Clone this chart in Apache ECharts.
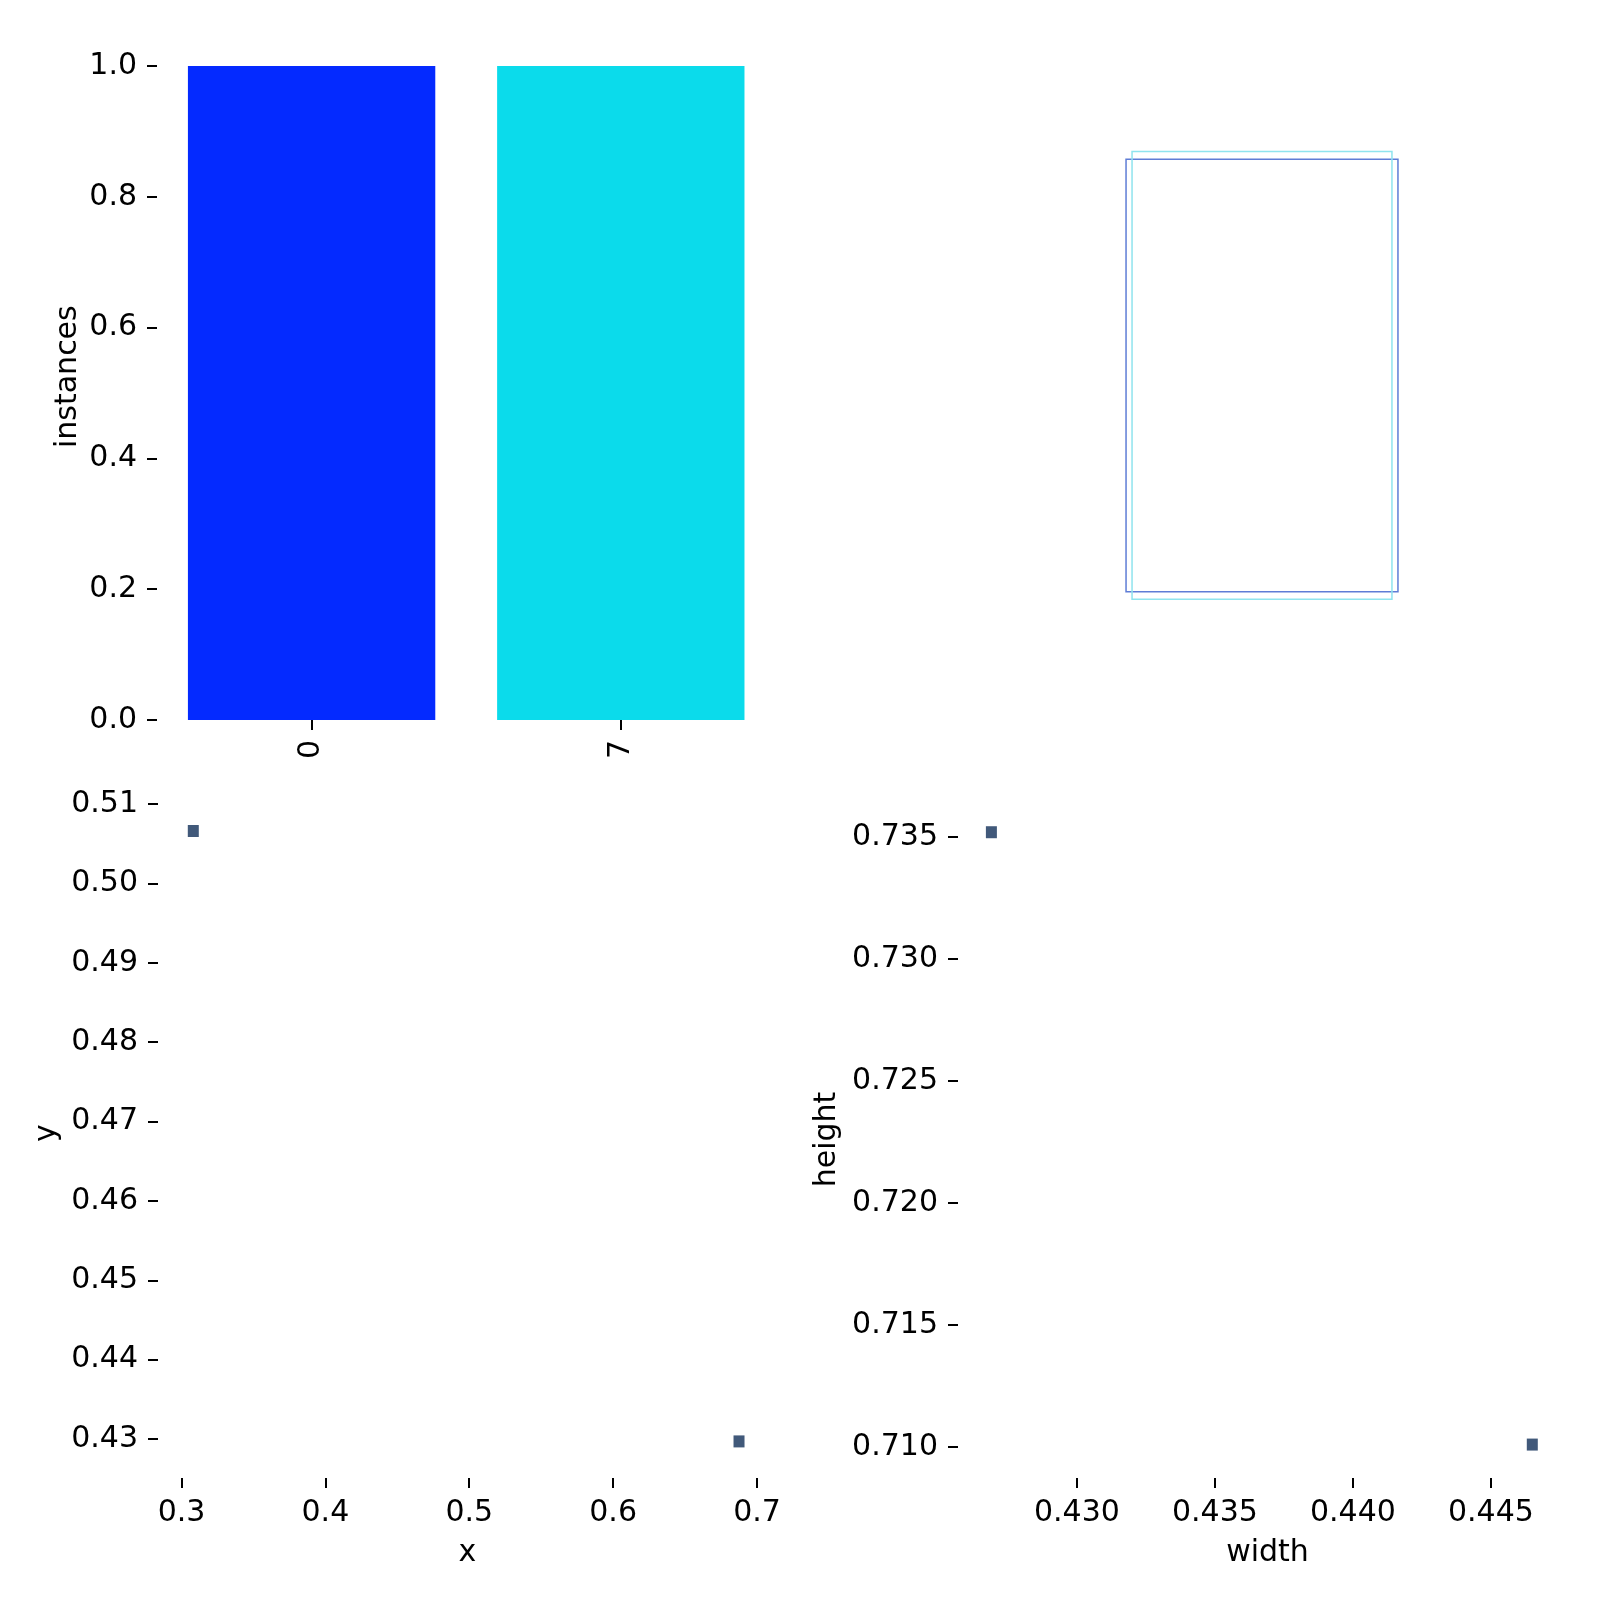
<!DOCTYPE html>
<html>
<head>
<meta charset="utf-8">
<title>labels</title>
<script src="https://cdn.jsdelivr.net/npm/echarts@6.0.0/dist/echarts.min.js"></script>
<style>
  html, body { margin: 0; padding: 0; background: #fff; }
  #chart { width: 1600px; height: 1600px; }
</style>
</head>
<body>
<div id="chart"></div>
<script>
// class histogram
const classNames = ['0', '7'];
const classCounts = [1, 1];
const classTicks = [0, 0.2, 0.4, 0.6, 0.8, 1.0];

// label boxes (normalised width / height), one per instance
const boxWidth = [0.4465, 0.4268];
const boxHeight = [0.7101, 0.7351];

// centre positions
const posX = [0.3082, 0.6875];
const posY = [0.5066, 0.4297];
const xTicks = [0.3, 0.4, 0.5, 0.6, 0.7];
const yTicks = [0.43, 0.44, 0.45, 0.46, 0.47, 0.48, 0.49, 0.50, 0.51];

// sizes
const sizeW = [0.4269, 0.4465];
const sizeH = [0.7352, 0.7101];
const wTicks = [0.430, 0.435, 0.440, 0.445];
const hTicks = [0.710, 0.715, 0.720, 0.725, 0.730, 0.735];

const palette = ['#042AFF', '#0BDBEB'];
const boxStroke = ['#5f7dd6', '#8fe4ee'];
const font = 'DejaVu Sans';

function textStyle() {
    return { fontSize: 30, color: '#000', fontFamily: font };
}

function valueAxis(gridIndex, min, max, ticks, digits, name, gap) {
    return {
        type: 'value',
        gridIndex: gridIndex,
        min: min,
        max: max,
        axisLine: { show: false },
        axisTick: { show: true, length: 10, lineStyle: { color: '#000', width: 2 }, customValues: ticks },
        axisLabel: Object.assign({ customValues: ticks, margin: 20, formatter: v => v.toFixed(digits) }, textStyle()),
        splitLine: { show: false },
        name: name,
        nameLocation: 'middle',
        nameGap: gap,
        nameTextStyle: textStyle()
    };
}

const chart = echarts.init(document.getElementById('chart'), null, { renderer: 'canvas' });

chart.setOption({
    backgroundColor: '#fff',
    animation: false,
    grid: [
        { left: 157, top: 33.3, width: 618.4, height: 686.7, containLabel: false, outerBoundsMode: 'none' },
        { left: 957.5, top: 70.9, width: 609, height: 609, containLabel: false, outerBoundsMode: 'none' },
        { left: 158, top: 788, width: 619, height: 690, containLabel: false, outerBoundsMode: 'none' },
        { left: 958, top: 801, width: 619, height: 677, containLabel: false, outerBoundsMode: 'none' }
    ],
    xAxis: [
        {
            type: 'category',
            gridIndex: 0,
            data: classNames,
            axisLine: { show: false },
            axisTick: { show: true, alignWithLabel: true, length: 10, lineStyle: { color: '#000', width: 2 } },
            axisLabel: Object.assign({ rotate: 90, margin: 20 }, textStyle()),
            splitLine: { show: false }
        },
        { type: 'value', gridIndex: 1, min: 0, max: 1000, show: false },
        valueAxis(2, 0.28367, 0.7139, xTicks, 1, 'x', 60),
        valueAxis(3, 0.42569, 0.44812, wTicks, 3, 'width', 60)
    ],
    yAxis: [
        valueAxis(0, 0, 1.05, classTicks, 1, 'instances', 74),
        { type: 'value', gridIndex: 1, min: 0, max: 1000, inverse: true, show: false },
        valueAxis(2, 0.42509, 0.51202, yTicks, 2, 'y', 96),
        valueAxis(3, 0.70873, 0.73648, hTicks, 3, 'height', 116)
    ],
    series: [
        {
            type: 'bar',
            xAxisIndex: 0,
            yAxisIndex: 0,
            barWidth: '80%',
            data: classCounts.map((v, i) => ({ value: v, itemStyle: { color: palette[i] } }))
        },
        {
            type: 'custom',
            xAxisIndex: 1,
            yAxisIndex: 1,
            clip: false,
            data: boxWidth.map((w, i) => [w, boxHeight[i], i]),
            renderItem: function (params, api) {
                const w = api.value(0);
                const h = api.value(1);
                const i = api.value(2);
                const p0 = api.coord([500 - w * 500, 500 - h * 500]);
                const p1 = api.coord([500 + w * 500, 500 + h * 500]);
                return {
                    type: 'rect',
                    shape: {
                        x: Math.min(p0[0], p1[0]),
                        y: Math.min(p0[1], p1[1]),
                        width: Math.abs(p1[0] - p0[0]),
                        height: Math.abs(p1[1] - p0[1])
                    },
                    style: { fill: 'none', stroke: boxStroke[i], lineWidth: 1.5 }
                };
            }
        },
        {
            type: 'scatter',
            xAxisIndex: 2,
            yAxisIndex: 2,
            symbol: 'rect',
            symbolSize: [11, 12],
            itemStyle: { color: '#41597a', opacity: 1 },
            data: posX.map((x, i) => [x, posY[i]])
        },
        {
            type: 'scatter',
            xAxisIndex: 3,
            yAxisIndex: 3,
            symbol: 'rect',
            symbolSize: [11, 12],
            itemStyle: { color: '#41597a', opacity: 1 },
            data: sizeW.map((w, i) => [w, sizeH[i]])
        }
    ]
});
</script>
</body>
</html>
